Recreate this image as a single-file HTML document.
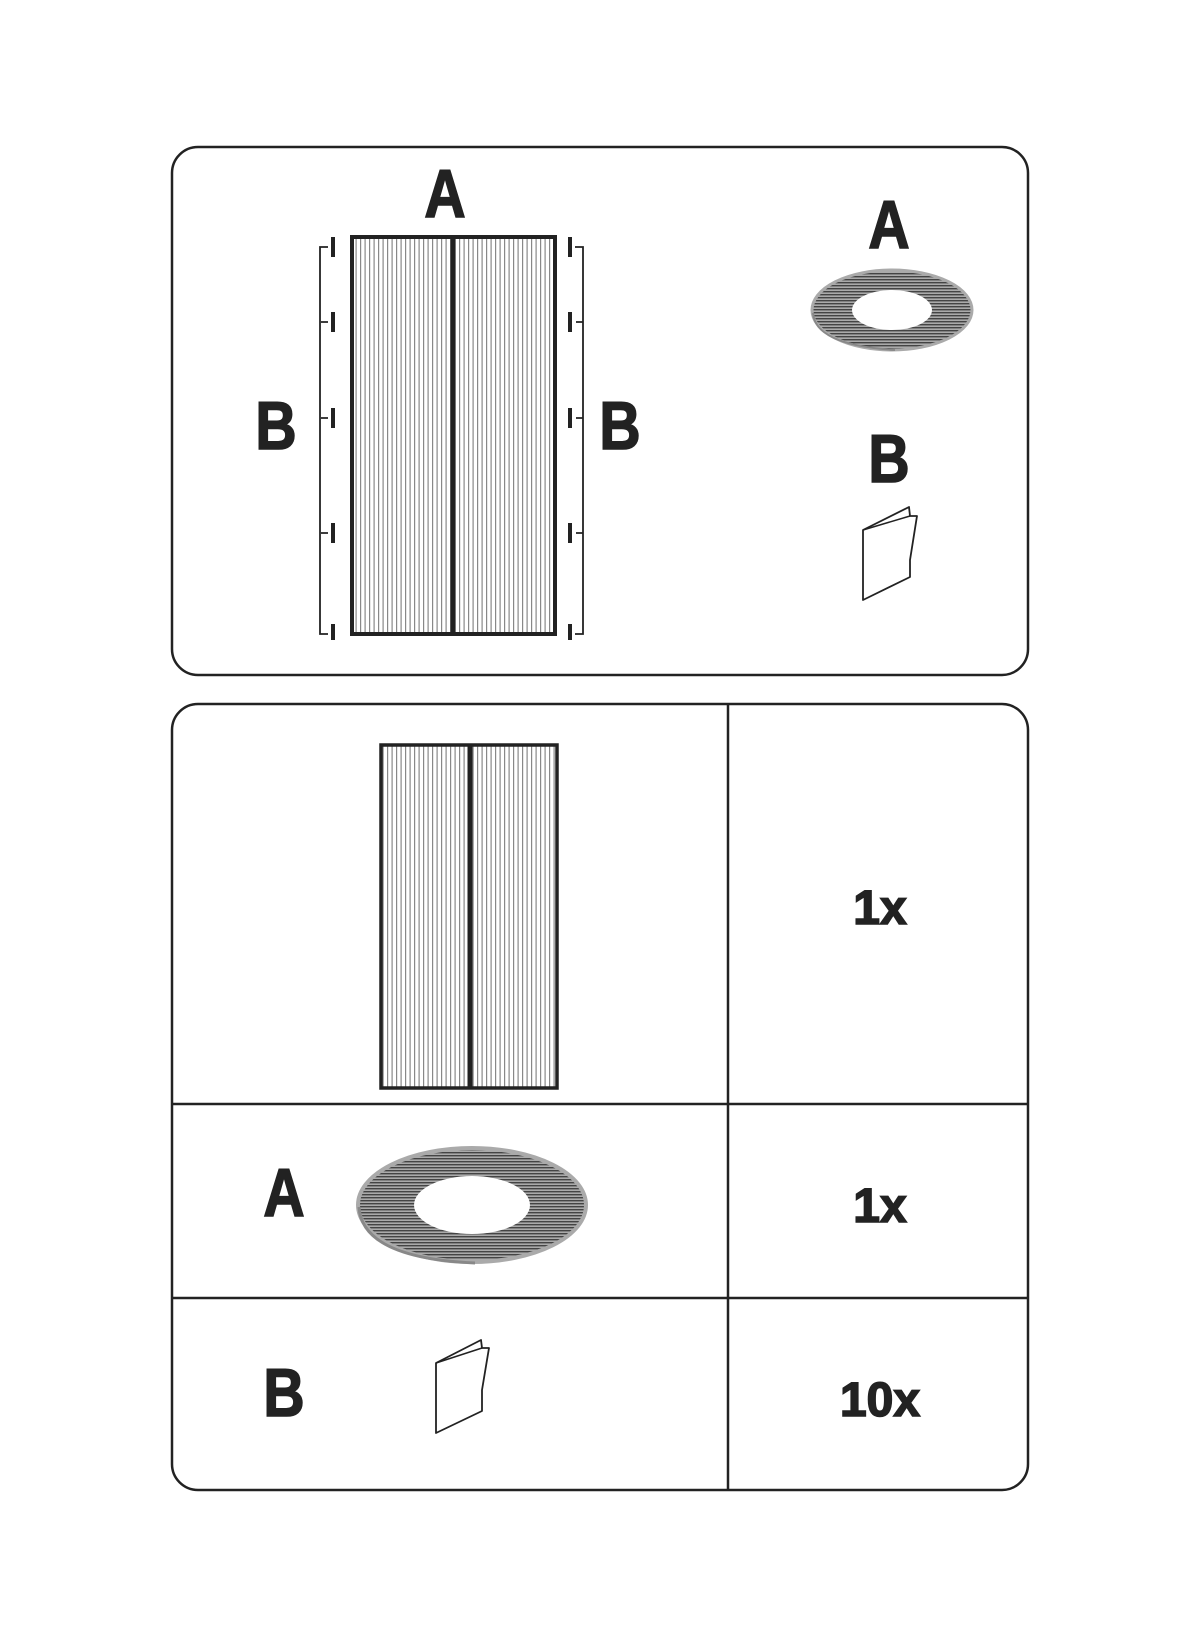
<!DOCTYPE html>
<html><head><style>html,body{margin:0;padding:0;background:#fff}</style></head>
<body>
<svg width="1200" height="1641" viewBox="0 0 1200 1641" xmlns="http://www.w3.org/2000/svg">
<defs>
<pattern id="st" width="4.5" height="10" patternUnits="userSpaceOnUse">
<rect width="4.5" height="10" fill="#fff"/><rect x="0" width="1.2" height="10" fill="#888"/>
</pattern>
<pattern id="rs" width="3" height="3" patternUnits="userSpaceOnUse">
<rect width="3" height="3" fill="#aaa"/><rect width="3" height="1.4" fill="#444"/>
</pattern>
</defs>
<style>
text{font-family:"Liberation Sans",sans-serif;font-weight:bold;fill:#222;stroke:#222;stroke-width:1.6}
</style>
<!-- top panel -->
<rect x="172" y="147" width="856" height="528" rx="26" fill="none" stroke="#222" stroke-width="2.5"/>
<text x="445" y="217" font-size="68" text-anchor="middle" transform="translate(445 0) scale(0.84 1) translate(-445 0)">A</text>
<text x="276" y="449" font-size="68" text-anchor="middle" transform="translate(276 0) scale(0.84 1) translate(-276 0)">B</text>
<text x="620" y="449" font-size="68" text-anchor="middle" transform="translate(620 0) scale(0.84 1) translate(-620 0)">B</text>
<text x="889" y="248" font-size="68" text-anchor="middle" transform="translate(889 0) scale(0.84 1) translate(-889 0)">A</text>
<text x="889" y="482" font-size="68" text-anchor="middle" transform="translate(889 0) scale(0.84 1) translate(-889 0)">B</text>
<!-- door top -->
<rect x="352" y="237" width="203" height="397" fill="url(#st)" stroke="#222" stroke-width="4"/>
<line x1="453" y1="237" x2="453" y2="634" stroke="#222" stroke-width="5"/>
<!-- brackets -->
<g stroke="#222" fill="none" stroke-width="1.8">
<path d="M328 247 H320 V634 H328"/>
<path d="M321 322 H328 M321 418 H328 M321 533 H328"/>
<path d="M575 247 H583 V634 H575"/>
<path d="M576 322 H583 M576 418 H583 M576 533 H583"/>
</g>
<g fill="#222">
<rect x="331" y="237" width="4" height="20"/><rect x="331" y="312" width="4" height="20"/><rect x="331" y="408" width="4" height="20"/><rect x="331" y="523" width="4" height="20"/><rect x="331" y="624" width="4" height="16"/>
<rect x="568" y="237" width="4" height="20"/><rect x="568" y="312" width="4" height="20"/><rect x="568" y="408" width="4" height="20"/><rect x="568" y="523" width="4" height="20"/><rect x="568" y="624" width="4" height="16"/>
</g>
<!-- ring top -->
<ellipse cx="892" cy="310" rx="80" ry="40" fill="url(#rs)" stroke="#aaa" stroke-width="3"/>
<ellipse cx="892" cy="310" rx="40" ry="20" fill="#fff"/>
<path d="M813 313 Q815 345 895 350" fill="none" stroke="#888" stroke-width="2"/>
<!-- booklet top -->
<path d="M863 530 L909 507 L910 516 L917 516 L910 560 L910 577 L863 600 Z" fill="#fff" stroke="#222" stroke-width="1.8" stroke-linejoin="round"/>
<path d="M863 530 L910 516" stroke="#222" stroke-width="1.5"/>
<!-- bottom panel -->
<rect x="172" y="704" width="856" height="786" rx="26" fill="none" stroke="#222" stroke-width="2.5"/>
<line x1="728" y1="704" x2="728" y2="1490" stroke="#222" stroke-width="2.5"/>
<line x1="172" y1="1104" x2="1028" y2="1104" stroke="#222" stroke-width="2.5"/>
<line x1="172" y1="1298" x2="1028" y2="1298" stroke="#222" stroke-width="2.5"/>
<rect x="381" y="745" width="176" height="343" fill="url(#st)" stroke="#222" stroke-width="3.5"/>
<line x1="470" y1="745" x2="470" y2="1088" stroke="#222" stroke-width="5"/>
<text x="880" y="924" font-size="48" text-anchor="middle">1x</text>
<text x="880" y="1222" font-size="48" text-anchor="middle">1x</text>
<text x="880" y="1416" font-size="48" text-anchor="middle">10x</text>
<text x="284" y="1216" font-size="68" text-anchor="middle" transform="translate(284 0) scale(0.84 1) translate(-284 0)">A</text>
<text x="284" y="1416" font-size="68" text-anchor="middle" transform="translate(284 0) scale(0.84 1) translate(-284 0)">B</text>
<ellipse cx="472" cy="1205" rx="114" ry="57" fill="url(#rs)" stroke="#aaa" stroke-width="4"/>
<ellipse cx="472" cy="1205" rx="58" ry="29" fill="#fff"/>
<path d="M359 1207 Q362 1258 475 1263" fill="none" stroke="#888" stroke-width="3"/>
<path d="M436 1363 L481 1340 L482 1348 L489 1348 L482 1390 L482 1411 L436 1433 Z" fill="#fff" stroke="#222" stroke-width="1.8" stroke-linejoin="round"/>
<path d="M436 1363 L482 1348" stroke="#222" stroke-width="1.5"/>
</svg>
</body></html>
